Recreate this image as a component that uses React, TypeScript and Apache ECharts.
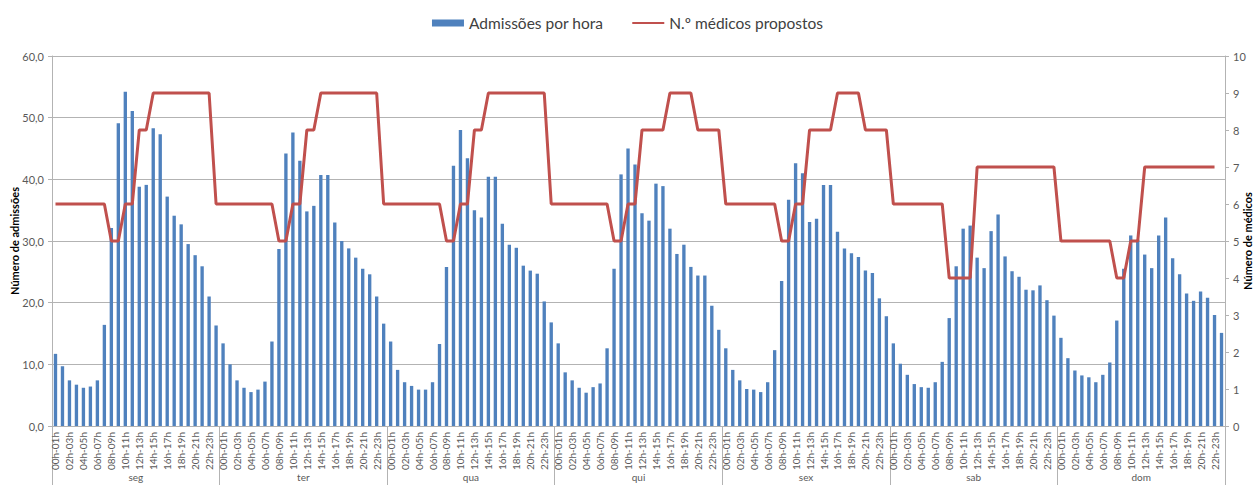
import React, { useEffect, useRef } from "react";
import * as echarts from "echarts";

const days = ["seg", "ter", "qua", "qui", "sex", "sab", "dom"];
const hourLabels = [
  "00h-01h", "01h-02h", "02h-03h", "03h-04h", "04h-05h", "05h-06h",
  "06h-07h", "07h-08h", "08h-09h", "09h-10h", "10h-11h", "11h-12h",
  "12h-13h", "13h-14h", "14h-15h", "15h-16h", "16h-17h", "17h-18h",
  "18h-19h", "19h-20h", "20h-21h", "21h-22h", "22h-23h", "23h-00h",
];

// Admissões por hora
const admSeg = [11.7, 9.7, 7.4, 6.7, 6.2, 6.4, 7.4, 16.4, 32.1, 49.1, 54.2, 51.1, 38.8, 39.1, 48.3, 47.3, 37.2, 34.1, 32.7, 29.5, 27.7, 25.9, 21.0, 16.3];
const admTer = [13.4, 10.0, 7.4, 6.2, 5.5, 5.9, 7.2, 13.7, 28.7, 44.2, 47.6, 43.0, 34.8, 35.7, 40.7, 40.7, 33.0, 30.0, 28.8, 27.3, 25.5, 24.6, 21.0, 16.6];
const admQua = [13.7, 9.1, 7.1, 6.5, 5.9, 5.9, 7.1, 13.3, 25.8, 42.2, 48.0, 43.4, 35.0, 33.8, 40.4, 40.4, 32.8, 29.4, 28.9, 26.0, 25.2, 24.7, 20.2, 16.8];
const admQui = [13.4, 8.7, 7.4, 6.2, 5.4, 6.3, 6.9, 12.6, 25.5, 40.8, 45.0, 42.4, 34.5, 33.3, 39.3, 38.9, 32.0, 27.9, 29.4, 25.8, 24.4, 24.4, 19.5, 15.6];
const admSex = [12.6, 9.1, 7.4, 6.0, 5.9, 5.5, 7.1, 12.3, 23.5, 36.7, 42.6, 41.0, 33.1, 33.6, 39.1, 39.1, 31.5, 28.8, 28.0, 27.4, 25.2, 24.8, 20.7, 17.8];
const admSab = [13.4, 10.1, 8.3, 6.8, 6.3, 6.2, 7.1, 10.4, 17.5, 25.9, 32.0, 32.5, 27.3, 25.6, 31.6, 34.3, 27.5, 25.1, 24.2, 22.1, 22.0, 22.8, 20.4, 17.9];
const admDom = [14.3, 11.0, 9.0, 8.2, 7.9, 7.1, 8.3, 10.3, 17.1, 25.5, 30.9, 30.2, 27.8, 25.6, 30.9, 33.8, 27.2, 24.6, 21.5, 20.3, 21.8, 20.8, 18.0, 15.1];

// N.º médicos propostos
const medSeg = [6, 6, 6, 6, 6, 6, 6, 6, 5, 5, 6, 6, 8, 8, 9, 9, 9, 9, 9, 9, 9, 9, 9, 6];
const medTer = [6, 6, 6, 6, 6, 6, 6, 6, 5, 5, 6, 6, 8, 8, 9, 9, 9, 9, 9, 9, 9, 9, 9, 6];
const medQua = [6, 6, 6, 6, 6, 6, 6, 6, 5, 5, 6, 6, 8, 8, 9, 9, 9, 9, 9, 9, 9, 9, 9, 6];
const medQui = [6, 6, 6, 6, 6, 6, 6, 6, 5, 5, 6, 6, 8, 8, 8, 8, 9, 9, 9, 9, 8, 8, 8, 8];
const medSex = [6, 6, 6, 6, 6, 6, 6, 6, 5, 5, 6, 6, 8, 8, 8, 8, 9, 9, 9, 9, 8, 8, 8, 8];
const medSab = [6, 6, 6, 6, 6, 6, 6, 6, 4, 4, 4, 4, 7, 7, 7, 7, 7, 7, 7, 7, 7, 7, 7, 7];
const medDom = [5, 5, 5, 5, 5, 5, 5, 5, 4, 4, 5, 5, 7, 7, 7, 7, 7, 7, 7, 7, 7, 7, 7, null];

const leftTicks = { min: 0, max: 60, interval: 10 };
const rightTicks = { min: 0, max: 10, interval: 1 };

export default function App() {
  const ref = useRef<HTMLDivElement>(null);

  useEffect(() => {
    if (!ref.current) return;
    const chart = echarts.init(ref.current, null, { renderer: "svg" });

    const categories: string[] = [];
    days.forEach(() => hourLabels.forEach((h) => categories.push(h)));
    const admissions = [admSeg, admTer, admQua, admQui, admSex, admSab, admDom].flat();
    const doctors = [medSeg, medTer, medQua, medQui, medSex, medSab, medDom].flat();

    const font = "Lato, 'Liberation Sans', sans-serif";
    const gridColor = "#b3b3b3";
    const labelColor = "#595959";

    chart.setOption({
      animation: false,
      textStyle: { fontFamily: font },
      legend: {
        top: 10,
        left: "center",
        itemGap: 28,
        itemWidth: 32,
        itemHeight: 7,
        textStyle: { fontFamily: font, fontSize: 15.5, color: "#404040" },
        data: [
          { name: "Admissões por hora", icon: "rect" },
          { name: "N.º médicos propostos", itemStyle: { opacity: 0 } },
        ],
      },
      grid: {
        left: 52,
        right: 30,
        top: 56,
        bottom: 59,
        containLabel: false,
        outerBoundsMode: "none",
      },
      xAxis: [
        {
          type: "category",
          data: categories,
          position: "bottom",
          boundaryGap: true,
          axisLine: { show: true, lineStyle: { color: gridColor, width: 1 } },
          axisTick: { show: false },
          axisLabel: {
            interval: 1,
            rotate: 90,
            fontSize: 10,
            color: labelColor,
            margin: 6,
            fontFamily: font,
          },
        },
        {
          type: "category",
          data: days,
          position: "bottom",
          boundaryGap: true,
          axisLine: { show: false },
          axisTick: { show: true, length: 60, lineStyle: { color: gridColor } },
          axisLabel: { fontSize: 10, color: labelColor, margin: 46, fontFamily: font },
        },
      ],
      yAxis: [
        {
          type: "value",
          ...leftTicks,
          name: "Número de admissões",
          nameLocation: "middle",
          nameRotate: 90,
          nameGap: 32,
          nameMoveOverlap: false,
          nameTextStyle: { fontWeight: "bold", fontSize: 11, color: "#000", fontFamily: font },
          axisLine: { show: true, lineStyle: { color: gridColor } },
          axisTick: { show: true, length: 4, lineStyle: { color: gridColor } },
          axisLabel: {
            fontSize: 11,
            color: labelColor,
            margin: 8,
            fontFamily: font,
            formatter: (v: number) => v.toFixed(1).replace(".", ","),
          },
          splitLine: { show: true, lineStyle: { color: gridColor, width: 1 } },
        },
        {
          type: "value",
          ...rightTicks,
          position: "right",
          name: "Número de médicos",
          nameLocation: "middle",
          nameRotate: 90,
          nameGap: 17,
          nameMoveOverlap: false,
          nameTextStyle: { fontWeight: "bold", fontSize: 11, color: "#000", fontFamily: font },
          axisLine: { show: true, lineStyle: { color: gridColor } },
          axisTick: { show: true, length: 4, lineStyle: { color: gridColor } },
          axisLabel: { fontSize: 11, color: labelColor, margin: 8, fontFamily: font },
          splitLine: { show: false },
        },
      ],
      series: [
        {
          name: "Admissões por hora",
          type: "bar",
          data: admissions,
          xAxisIndex: 0,
          yAxisIndex: 0,
          barWidth: "48%",
          itemStyle: { color: "#4f81bd" },
        },
        {
          name: "N.º médicos propostos",
          type: "line",
          data: doctors,
          xAxisIndex: 0,
          yAxisIndex: 1,
          symbol: "none",
          lineStyle: { color: "#c0504d", width: 3 },
          itemStyle: { color: "#c0504d" },
        },
      ],
    });

    return () => chart.dispose();
  }, []);

  return (
    <div
      ref={ref}
      style={{ position: "fixed", left: 0, top: 0, width: 1255, height: 485, background: "#fff" }}
    />
  );
}
